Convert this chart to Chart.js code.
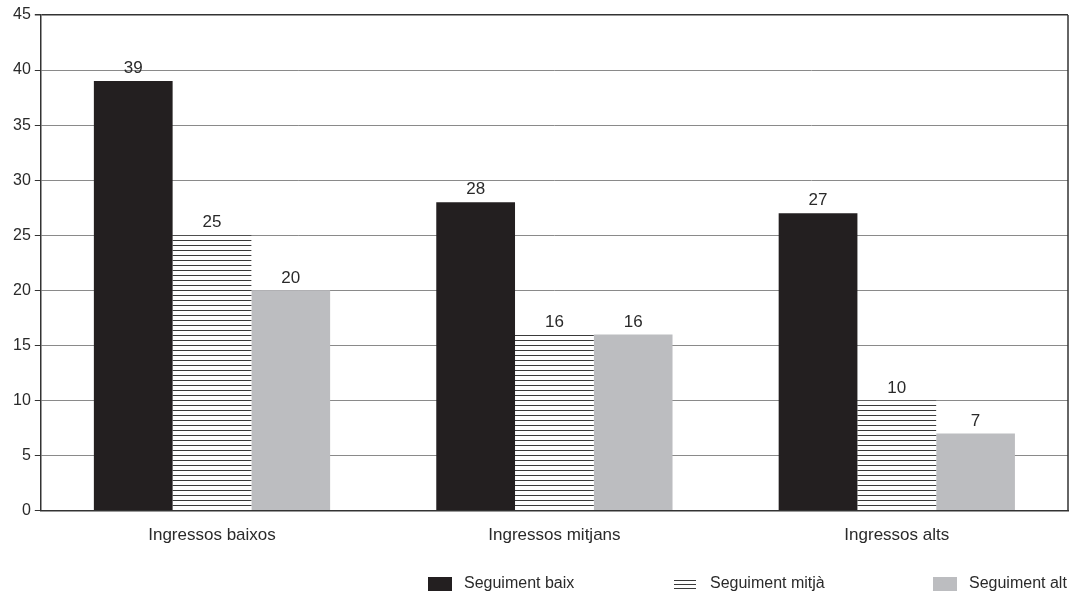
<!DOCTYPE html>
<html>
<head>
<meta charset="utf-8">
<script src="https://cdn.jsdelivr.net/npm/chart.js@4.4.0/dist/chart.umd.min.js"></script>
<style>
  html, body { margin: 0; padding: 0; background: #fff; }
  #wrap { width: 1077px; height: 595px; position: relative; }
</style>
</head>
<body>
<div id="wrap"><canvas id="chart"></canvas></div>
<script>
// categories and series
const categories = ["Ingressos baixos", "Ingressos mitjans", "Ingressos alts"];
const seriesNames = ["Seguiment baix", "Seguiment mitjà", "Seguiment alt"];
const baix = [39, 28, 27];
const mitja = [25, 16, 10];
const alt = [20, 16, 7];
const yTicks = [0, 5, 10, 15, 20, 25, 30, 35, 40, 45];

const FONT = '"Liberation Sans", Arial, sans-serif';

// horizontal stripe fill for the middle series
function stripes() {
    const c = document.createElement('canvas');
    c.width = 8;
    c.height = 5;
    const g = c.getContext('2d');
    g.fillStyle = '#fff';
    g.fillRect(0, 0, 8, 5);
    g.fillStyle = '#3a3a3a';
    g.fillRect(0, 0, 8, 1);
    return g.createPattern(c, 'repeat');
}

// numbers above the bars
const valueLabels = {
    id: 'valueLabels',
    afterDatasetsDraw(chart) {
        const ctx = chart.ctx;
        ctx.save();
        ctx.font = '17px ' + FONT;
        ctx.fillStyle = '#2a2a2a';
        ctx.textAlign = 'center';
        ctx.textBaseline = 'bottom';
        chart.data.datasets.forEach((ds, i) => {
            chart.getDatasetMeta(i).data.forEach((bar, j) => {
                ctx.fillText(ds.data[j], bar.x, bar.y - 4);
            });
        });
        ctx.restore();
    }
};

// right edge of the plot box
const frame = {
    id: 'frame',
    afterDraw(chart) {
        const a = chart.chartArea;
        const ctx = chart.ctx;
        ctx.save();
        ctx.strokeStyle = '#333';
        ctx.lineWidth = 1.5;
        ctx.beginPath();
        ctx.moveTo(a.right, a.top);
        ctx.lineTo(a.right, a.bottom);
        ctx.stroke();
        ctx.restore();
    }
};

// legend along the bottom right, spread out like the original
const legendStarts = [428, 674, 933];
const bottomLegend = {
    id: 'bottomLegend',
    afterDraw(chart) {
        const ctx = chart.ctx;
        const y = chart.height - 11;
        ctx.save();
        ctx.font = '16px ' + FONT;
        ctx.textBaseline = 'middle';
        ctx.textAlign = 'left';
        chart.data.datasets.forEach((ds, i) => {
            const x = legendStarts[i];
            if (i === 1) {
                ctx.strokeStyle = '#3a3a3a';
                ctx.lineWidth = 1;
                [-4, 0, 4].forEach(d => {
                    ctx.beginPath();
                    ctx.moveTo(x, Math.round(y + d) + 0.5);
                    ctx.lineTo(x + 22, Math.round(y + d) + 0.5);
                    ctx.stroke();
                });
            } else {
                ctx.fillStyle = ds.backgroundColor;
                ctx.fillRect(x, y - 7, 24, 14);
            }
            ctx.fillStyle = '#2a2a2a';
            ctx.fillText(ds.label, x + 36, y);
        });
        ctx.restore();
    }
};

const ctx = document.getElementById('chart').getContext('2d');
const chart = new Chart(ctx, {
    type: 'bar',
    data: {
        labels: categories,
        datasets: [{
            label: seriesNames[0],
            data: baix,
            backgroundColor: '#231f20',
            borderWidth: 0
        }, {
            label: seriesNames[1],
            data: mitja,
            backgroundColor: stripes(),
            borderWidth: 0
        }, {
            label: seriesNames[2],
            data: alt,
            backgroundColor: '#bcbdc0',
            borderWidth: 0
        }]
    },
    options: {
        responsive: true,
        maintainAspectRatio: false,
        animation: false,
        categoryPercentage: 0.69,
        barPercentage: 1,
        layout: {
            padding: { left: 9, right: 9, top: 15, bottom: 42 }
        },
        plugins: {
            tooltip: { enabled: false },
            legend: { display: false }
        },
        scales: {
            x: {
                grid: { display: false },
                border: { color: '#333', width: 1.5 },
                ticks: {
                    color: '#2a2a2a',
                    padding: 7,
                    font: { size: 17, family: FONT }
                }
            },
            y: {
                min: 0,
                max: 45,
                afterBuildTicks: axis => {
                    axis.ticks = yTicks.map(v => ({ value: v }));
                },
                grid: {
                    color: c => (c.tick && c.tick.value === 45) ? '#333' : '#8a8a8a',
                    lineWidth: c => (c.tick && c.tick.value === 45) ? 1.5 : 1,
                    tickColor: '#333',
                    tickLength: 6
                },
                border: { color: '#333', width: 1.5 },
                ticks: {
                    color: '#2a2a2a',
                    padding: 4,
                    font: { size: 16, family: FONT }
                }
            }
        }
    },
    plugins: [valueLabels, frame, bottomLegend]
});
</script>
</body>
</html>
